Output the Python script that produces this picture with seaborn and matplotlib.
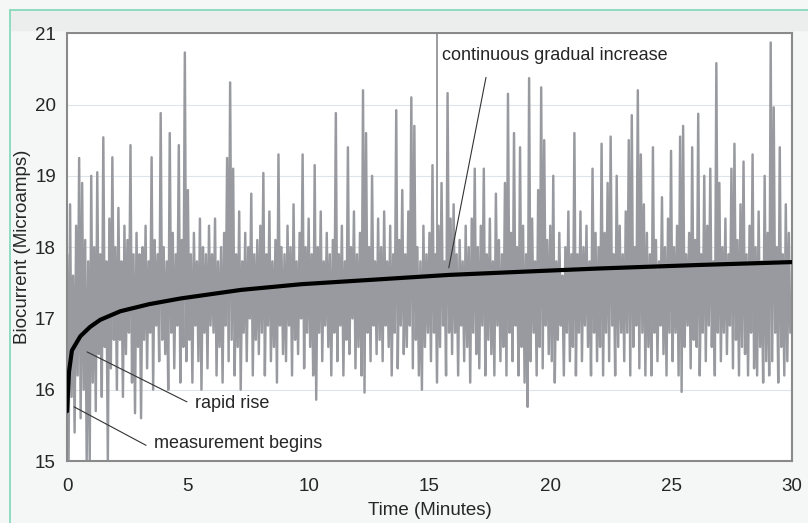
import numpy as np
import pandas as pd
import matplotlib
matplotlib.use("Agg")
import matplotlib.pyplot as plt
from matplotlib.lines import Line2D
from matplotlib.patches import Rectangle
import seaborn as sns

# 生の信号: 0.125分ごとの山(hi)と谷(lo)の値 (1行 = 1分)
hi = [
    17.9, 18.6, 17.6, 18.3, 19.25, 18.9, 18.1, 17.8,
    19.0, 18.0, 19.05, 17.9, 19.54, 17.8, 18.4, 19.26,
    18.0, 18.55, 17.8, 18.3, 18.1, 19.43, 17.9, 18.2,
    17.9, 18.0, 18.3, 17.8, 19.26, 18.1, 17.9, 19.88,
    18.0, 17.8, 19.6, 18.2, 17.9, 19.43, 18.1, 20.73,
    18.8, 17.9, 18.2, 17.8, 18.4, 18.0, 17.9, 18.3,
    17.9, 18.4, 17.8, 18.0, 18.2, 19.25, 20.31, 19.1,
    17.9, 18.5, 17.8, 18.2, 18.0, 18.75, 17.9, 18.1,
    18.3, 19.04, 17.9, 18.5, 17.8, 18.1, 19.3, 18.0,
    17.9, 18.3, 18.0, 18.6, 17.8, 18.2, 19.3, 18.0,
    18.4, 17.9, 19.15, 18.0, 18.5, 17.8, 18.2, 17.9,
    18.1, 19.88, 17.9, 18.3, 17.8, 19.4, 18.0, 18.5,
    17.9, 18.2, 20.2, 19.6, 18.0, 19.0, 17.8, 18.4,
    18.0, 18.5, 17.8, 18.3, 17.9, 19.92, 18.1, 18.8,
    17.9, 18.5, 20.1, 19.7, 18.0, 17.8, 18.3, 17.9,
    18.2, 19.15, 17.9, 18.3, 18.9, 17.8, 20.16, 18.4,
    18.6, 17.9, 18.1, 17.8, 18.3, 18.0, 18.4, 19.1,
    18.0, 18.3, 19.1, 17.9, 18.4, 17.8, 18.75, 18.1,
    17.9, 18.9, 20.15, 18.2, 19.6, 18.0, 19.4, 18.3,
    17.9, 20.37, 18.4, 17.8, 18.8, 20.24, 19.5, 18.1,
    18.3, 19.0, 17.8, 18.2, 17.6, 18.0, 18.5, 17.9,
    19.6, 17.9, 18.5, 18.0, 18.3, 17.8, 19.1, 18.2,
    18.0, 19.45, 18.2, 18.9, 19.55, 17.9, 19.0, 18.3,
    17.9, 18.5, 19.5, 19.85, 18.0, 20.2, 19.3, 18.6,
    18.2, 17.9, 19.4, 18.1, 17.8, 18.7, 18.0, 18.4,
    19.35, 18.0, 18.3, 19.55, 19.7, 17.9, 18.2, 19.4,
    18.1, 19.87, 17.9, 19.0, 18.3, 19.1, 17.8, 20.58,
    18.9, 18.0, 18.4, 17.9, 19.1, 19.45, 18.1, 18.6,
    19.2, 17.9, 18.3, 19.3, 18.0, 18.5, 17.8, 19.0,
    18.2, 20.87, 19.96, 18.0, 19.4, 17.9, 18.6, 18.2,
]
lo = [
    15.0, 15.9, 15.4, 16.2, 15.6, 16.0, 15.0, 15.0,
    16.1, 15.7, 16.5, 15.9, 16.6, 15.0, 16.3, 16.7,
    16.0, 16.7, 15.9, 16.5, 16.8, 16.1, 15.67, 16.6,
    15.6, 16.7, 16.3, 16.8, 16.0, 16.9, 16.4, 16.7,
    16.5, 16.0, 16.8, 16.3, 16.9, 16.1, 16.6, 16.4,
    16.7, 16.1, 16.9, 16.4, 16.0, 16.8, 16.3, 16.9,
    16.8, 16.2, 16.6, 16.1, 16.9, 16.4, 16.7, 16.2,
    16.6, 16.0, 16.8, 16.4, 17.0, 16.2, 16.7, 16.5,
    16.8, 16.2, 16.9, 16.4, 16.6, 16.1, 16.9, 16.5,
    16.4, 16.9, 16.2, 16.7, 16.5, 17.0, 16.3, 16.8,
    16.6, 16.2, 15.86, 16.8, 16.4, 16.9, 16.6, 16.2,
    16.8, 16.4, 16.9, 16.2, 16.7, 16.5, 17.0, 16.3,
    16.6, 16.2, 15.96, 16.8, 16.4, 16.9, 16.5, 16.7,
    16.4, 16.9, 16.6, 16.2, 16.8, 16.3, 16.9, 16.5,
    16.6, 16.9, 16.3, 16.7, 16.2, 16.0, 16.6, 16.8,
    16.4, 16.8, 16.1, 16.6, 16.9, 16.2, 16.8, 16.5,
    16.8, 16.2, 16.9, 16.4, 16.6, 16.1, 16.8, 16.5,
    16.3, 16.9, 16.2, 16.7, 16.5, 16.2, 16.9, 16.4,
    16.6, 16.2, 16.8, 16.4, 16.9, 16.2, 16.6, 16.1,
    15.76, 16.4, 16.8, 16.2, 16.6, 16.3, 16.9, 16.5,
    16.4, 16.1, 16.7, 16.9, 16.2, 16.8, 16.4, 16.6,
    16.2, 16.8, 16.4, 16.9, 16.6, 16.2, 16.8, 16.4,
    16.6, 16.2, 16.8, 16.4, 16.9, 16.2, 16.6, 16.8,
    16.4, 16.8, 16.2, 16.6, 16.9, 16.3, 16.8, 16.2,
    16.6, 16.2, 16.8, 16.4, 16.9, 16.5, 16.2, 16.8,
    16.4, 16.8, 16.2, 15.97, 16.6, 16.9, 16.3, 16.7,
    16.6, 16.2, 16.8, 16.4, 16.9, 16.6, 16.2, 16.8,
    16.4, 16.8, 16.5, 16.9, 16.3, 16.7, 16.2, 16.6,
    16.5, 16.2, 16.8, 16.3, 16.2, 16.6, 16.1, 16.4,
    16.2, 16.4, 16.8, 16.1, 16.6, 16.2, 16.4, 16.8,
]
bin_minutes = 0.125

# 平滑化したトレンド (分, 値)
trend_t = [0.0, 0.08, 0.2, 0.55, 0.95, 1.37, 2.2, 3.4, 4.7, 7.2, 9.7,
           13.0, 15.8, 19.2, 22.0, 26.2, 30.0]
trend_v = [15.7, 16.25, 16.55, 16.75, 16.88, 16.98, 17.1, 17.2, 17.28,
           17.4, 17.48, 17.55, 17.61, 17.66, 17.7, 17.75, 17.79]

# 信号を山と谷の交互の点に並べる
t_sig = []
v_sig = []
for i, (h, l) in enumerate(zip(hi, lo)):
    t_sig += [i * bin_minutes, i * bin_minutes + bin_minutes / 2]
    v_sig += [h, l]
signal = pd.DataFrame({"t": t_sig, "v": v_sig})
trend = pd.DataFrame({"t": trend_t, "v": trend_v})

sns.set_style("white")
plt.rcParams["font.family"] = ["Liberation Sans", "DejaVu Sans"]

fig = plt.figure(figsize=(8.08, 5.23), dpi=100)
fig.patch.set_facecolor("#f5f6f6")
# 上の帯と枠線
fig.add_artist(Rectangle((10 / 808, 1 - 30 / 523), 1, 20 / 523,
                         transform=fig.transFigure, color="#eceeee", zorder=0))
fig.add_artist(Line2D([10 / 808, 1], [1 - 10 / 523, 1 - 10 / 523],
                      transform=fig.transFigure, color="#7fd8b8", lw=1.2))
fig.add_artist(Line2D([10 / 808, 10 / 808], [0, 1 - 10 / 523],
                      transform=fig.transFigure, color="#7fd8b8", lw=1.2))

ax = fig.add_axes([0.083, 0.1185, 0.897, 0.818])
ax.set_facecolor("white")
ax.yaxis.grid(True, color="#dde4ea", lw=0.8)
ax.set_axisbelow(True)

ax.axvline(15.3, ymin=0.3, ymax=1, color="#8a8c90", lw=1.2, zorder=1)

sns.lineplot(data=signal, x="t", y="v", ax=ax, color="#989a9f", lw=1.75,
             estimator=None, sort=False, zorder=2)
sns.lineplot(data=trend, x="t", y="v", ax=ax, color="black", lw=3.0,
             estimator=None, zorder=3)

ax.set_xlim(0, 30)
ax.set_ylim(15, 21)
ax.set_xticks([0, 5, 10, 15, 20, 25, 30])
ax.set_yticks([15, 16, 17, 18, 19, 20, 21])
ax.tick_params(axis="x", length=0, pad=12, labelsize=13.5)
ax.tick_params(axis="y", length=4, width=1, color="#8a8a8a", pad=4, labelsize=13.5)
for sp in ax.spines.values():
    sp.set_color("#8a8a8a")
    sp.set_linewidth(1.5)

ax.set_xlabel("Time (Minutes)", fontsize=13.5, labelpad=5)
ax.set_ylabel("Biocurrent (Microamps)", fontsize=13.5, labelpad=3)

# 注釈
lead = dict(color="#333333", lw=0.8)
ax.plot([17.34, 15.8], [20.38, 17.71], **lead, zorder=4)
ax.text(15.5, 20.69, "continuous gradual increase", fontsize=13, va="center")
ax.plot([0.83, 4.96], [16.53, 15.83], **lead, zorder=4)
ax.text(5.3, 15.81, "rapid rise", fontsize=13, va="center")
ax.plot([0.29, 3.27], [15.76, 15.22], **lead, zorder=4)
ax.text(3.6, 15.25, "measurement begins", fontsize=13, va="center")

fig.savefig("out.png", dpi=100, facecolor=fig.get_facecolor())
plt.close(fig)
